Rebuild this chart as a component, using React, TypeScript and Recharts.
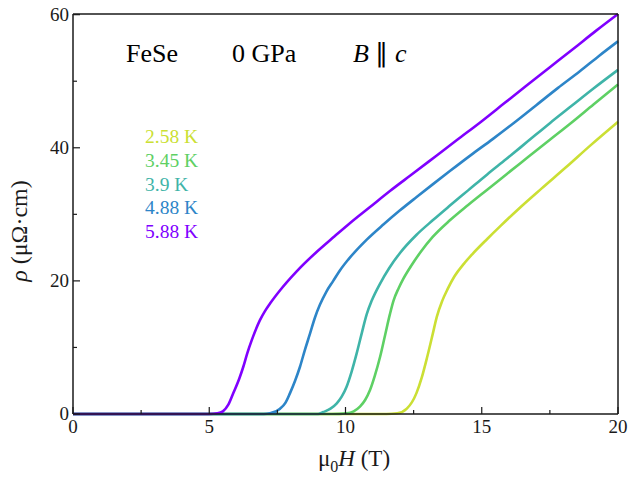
import { Line, LineChart, XAxis, YAxis } from "recharts";

// rho(mu0H) curves for FeSe at 0 GPa, B || c
const h258 = [0, 5, 11.5, 11.9, 12.25, 12.6, 12.8, 13.0, 13.2, 13.35, 13.55, 13.75, 14.0, 14.35, 14.65, 15.2, 15.7, 16.4, 17.2, 18.1, 19.0, 20];
const r258 = [0, 0, 0, 0.1, 0.8, 3.1, 5.5, 8.6, 12.0, 14.6, 17.0, 18.8, 20.7, 22.6, 24.0, 26.3, 28.3, 31.0, 33.9, 37.1, 40.4, 43.9];

const h345 = [0, 5, 9.5, 10.04, 10.3, 10.53, 10.72, 10.9, 11.08, 11.27, 11.45, 11.63, 11.76, 11.95, 12.12, 12.4, 12.75, 13.2, 13.83, 14.5, 15.2, 15.9, 16.7, 17.5, 18.3, 19.1, 20];
const r345 = [0, 0, 0, 0.1, 0.4, 1.1, 2.1, 3.6, 5.8, 8.6, 11.8, 15.0, 17.0, 18.9, 20.3, 22.2, 24.3, 26.6, 29.1, 31.4, 33.7, 36.0, 38.6, 41.2, 43.8, 46.5, 49.5];

const h39 = [0, 4, 8.5, 9.0, 9.19, 9.45, 9.68, 9.86, 10.04, 10.22, 10.41, 10.6, 10.78, 10.96, 11.27, 11.6, 12.0, 12.6, 13.2, 13.8, 14.5, 15.2, 15.9, 16.7, 17.5, 18.3, 19.1, 20];
const r39 = [0, 0, 0, 0, 0.3, 0.8, 1.6, 2.6, 4.1, 6.3, 9.1, 12.2, 15.0, 17.0, 19.6, 21.9, 24.2, 26.9, 29.1, 31.2, 33.6, 36.0, 38.3, 41.0, 43.7, 46.3, 48.9, 51.7];

const h488 = [0, 4, 7.0, 7.23, 7.6, 7.8, 7.96, 8.15, 8.33, 8.5, 8.7, 8.88, 9.06, 9.3, 9.55, 9.8, 10.1, 10.78, 11.4, 12.0, 12.61, 13.2, 13.83, 14.6, 15.4, 16.2, 17.0, 17.8, 18.6, 19.3, 20];
const r488 = [0, 0, 0, 0.1, 0.8, 1.7, 3.1, 5.0, 7.1, 9.5, 12.1, 14.5, 16.4, 18.4, 20.0, 21.6, 23.2, 26.2, 28.5, 30.6, 32.6, 34.5, 36.5, 38.9, 41.3, 43.8, 46.4, 49.0, 51.5, 53.8, 56.0];

const h588 = [0, 2, 4, 5.0, 5.3, 5.5, 5.7, 5.88, 6.1, 6.25, 6.4, 6.56, 6.86, 7.05, 7.23, 7.6, 8.2, 8.9, 9.6, 10.17, 10.9, 11.63, 12.5, 13.3, 14.1, 15.0, 15.8, 16.6, 17.5, 18.4, 19.2, 20];
const r588 = [0, 0, 0, 0, 0.1, 0.4, 1.4, 3.1, 5.3, 7.1, 9.2, 11.1, 14.1, 15.5, 16.6, 18.6, 21.4, 24.2, 26.7, 28.7, 31.1, 33.5, 36.2, 38.7, 41.2, 44.0, 46.6, 49.2, 52.1, 55.0, 57.6, 60.1];

const temps = ["2.58 K", "3.45 K", "3.9 K", "4.88 K", "5.88 K"];
const colors = ["#cbdf34", "#5ed064", "#3fb4a8", "#2d85c8", "#8000ff"];
const fields = [h258, h345, h39, h488, h588];
const rhos = [r258, r345, r39, r488, r588];

const xTicks = [0, 2.5, 5, 7.5, 10, 12.5, 15, 17.5, 20];
const yTicks = [0, 10, 20, 30, 40, 50, 60];

const series = temps.map((t, i) => ({
  name: t,
  color: colors[i],
  data: fields[i].map((h, j) => ({ h, r: rhos[i][j] })),
}));

const font = "'Liberation Serif', 'Times New Roman', serif";
const ink = "#1a1a1a";

const BottomTick = (p: any) => {
  const { x, y, payload } = p;
  const major = payload.value % 5 === 0;
  return (
    <g>
      <line x1={x} x2={x} y1={y} y2={y - (major ? 7 : 4)} stroke={ink} strokeWidth={1.2} />
      {major && (
        <text x={x} y={y + 19} textAnchor="middle" fontFamily={font} fontSize={19} fill={ink}>
          {payload.value}
        </text>
      )}
    </g>
  );
};

const TopTick = (p: any) => {
  const { x, y, payload } = p;
  const major = payload.value % 5 === 0;
  return <line x1={x} x2={x} y1={y} y2={y + (major ? 7 : 4)} stroke={ink} strokeWidth={1.2} />;
};

const LeftTick = (p: any) => {
  const { x, y, payload } = p;
  const major = payload.value % 20 === 0;
  return (
    <g>
      <line x1={x} x2={x + (major ? 7 : 4)} y1={y} y2={y} stroke={ink} strokeWidth={1.2} />
      {major && (
        <text x={x - 4} y={y + 6} textAnchor="end" fontFamily={font} fontSize={19} fill={ink}>
          {payload.value}
        </text>
      )}
    </g>
  );
};

const RightTick = (p: any) => {
  const { x, y, payload } = p;
  const major = payload.value % 20 === 0;
  return <line x1={x} x2={x - (major ? 7 : 4)} y1={y} y2={y} stroke={ink} strokeWidth={1.2} />;
};

const legendY = [143, 167, 191, 214, 238];

export default function App() {
  return (
    <div style={{ position: "absolute", left: 0, top: 0 }}>
      <LineChart width={631} height={482} margin={{ top: 13, right: 12, bottom: 67, left: 72 }}>
        <XAxis
          xAxisId={0}
          type="number"
          dataKey="h"
          domain={[0, 20]}
          ticks={xTicks}
          interval={0}
          height={1}
          tickSize={0}
          tickMargin={0}
          tick={<BottomTick />}
          axisLine={{ stroke: ink, strokeWidth: 1.5 }}
        />
        <XAxis
          xAxisId="top"
          orientation="top"
          type="number"
          dataKey="h"
          domain={[0, 20]}
          ticks={xTicks}
          interval={0}
          height={1}
          tickSize={0}
          tickMargin={0}
          tick={<TopTick />}
          axisLine={{ stroke: ink, strokeWidth: 1.5 }}
        />
        <YAxis
          yAxisId={0}
          type="number"
          domain={[0, 60]}
          ticks={yTicks}
          interval={0}
          width={1}
          tickSize={0}
          tickMargin={0}
          tick={<LeftTick />}
          axisLine={{ stroke: ink, strokeWidth: 1.5 }}
        />
        <YAxis
          yAxisId="right"
          orientation="right"
          type="number"
          domain={[0, 60]}
          ticks={yTicks}
          interval={0}
          width={1}
          tickSize={0}
          tickMargin={0}
          tick={<RightTick />}
          axisLine={{ stroke: ink, strokeWidth: 1.5 }}
        />
        {series.map((s) => (
          <Line
            key={s.name}
            data={s.data}
            dataKey="r"
            type="monotone"
            stroke={s.color}
            strokeWidth={2.6}
            dot={false}
            activeDot={false}
            isAnimationActive={false}
            xAxisId={0}
            yAxisId={0}
          />
        ))}
        <text x={126} y={62} fontFamily={font} fontSize={26} fill="#000">FeSe</text>
        <text x={232} y={62} fontFamily={font} fontSize={26} fill="#000">0 GPa</text>
        <text x={353} y={62} fontFamily={font} fontSize={26} fill="#000">
          <tspan fontStyle="italic">B</tspan>
          <tspan> ∥ </tspan>
          <tspan fontStyle="italic">c</tspan>
        </text>
        {temps.map((t, i) => (
          <text key={t} x={145} y={legendY[i]} fontFamily={font} fontSize={19.5} fill={colors[i]}>
            {t}
          </text>
        ))}
        <text
          x={27}
          y={231}
          transform="rotate(-90 27 231)"
          textAnchor="middle"
          fontFamily={font}
          fontSize={24}
          fill={ink}
        >
          <tspan fontStyle="italic">ρ</tspan> (μΩ·cm)
        </text>
        <text x={354} y={466} textAnchor="middle" fontFamily={font} fontSize={23} fill={ink}>
          μ<tspan fontSize={16} dy={6}>0</tspan>
          <tspan fontStyle="italic" dy={-6}>H</tspan> (T)
        </text>
      </LineChart>
    </div>
  );
}
